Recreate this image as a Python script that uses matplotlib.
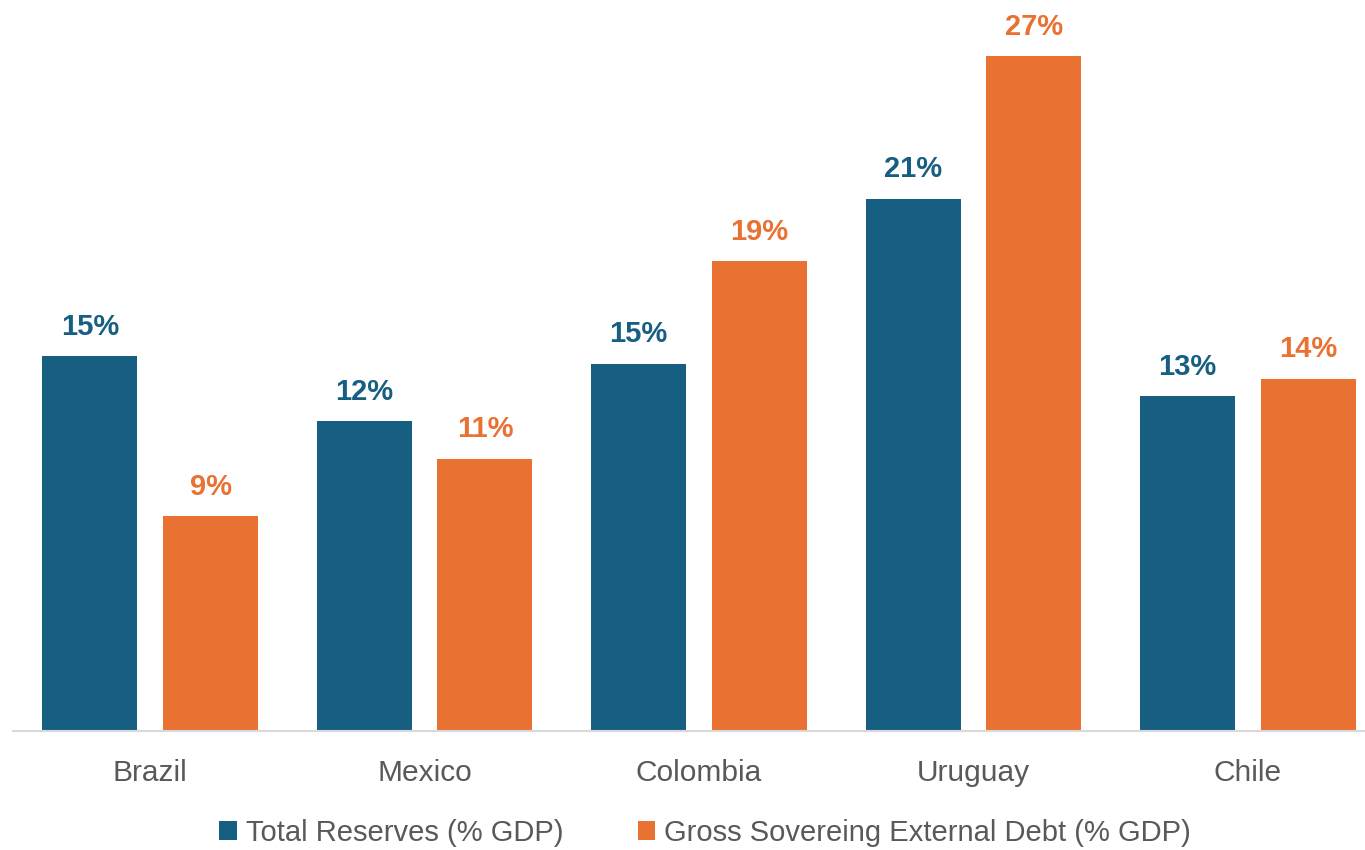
import matplotlib
matplotlib.use("Agg")
import matplotlib.pyplot as plt
from matplotlib.patches import Patch
import numpy as np

countries = ["Brazil", "Mexico", "Colombia", "Uruguay", "Chile"]
reserves = [15.0, 12.4, 14.7, 21.3, 13.4]
sovereign_debt = [8.6, 10.9, 18.8, 27.0, 14.1]
series_names = ["Total Reserves (% GDP)", "Gross Sovereing External Debt (% GDP)"]

BLUE = "#175F82"
ORANGE = "#E97132"
GRAY = "#595959"

plt.rcParams["font.family"] = ["Liberation Sans", "DejaVu Sans"]

fig = plt.figure(figsize=(13.65, 8.5), dpi=100)
W, H = 1365, 850
left_px, right_px = 13, 1385
base_px, top_px = 731, 31
ax = fig.add_axes([left_px / W, (H - base_px) / H,
                   (right_px - left_px) / W, (base_px - top_px) / H])

x = np.arange(len(countries))
width = 0.346
offset = 0.22

b1 = ax.bar(x - offset, reserves, width, color=BLUE, label=series_names[0])
b2 = ax.bar(x + offset, sovereign_debt, width, color=ORANGE, label=series_names[1])

for bars, vals, col in ((b1, reserves, BLUE), (b2, sovereign_debt, ORANGE)):
    for rect, v in zip(bars, vals):
        ax.annotate(f"{v:.0f}%", (rect.get_x() + rect.get_width() / 2, rect.get_height()),
                    xytext=(0, 11), textcoords="offset points",
                    ha="center", va="bottom", fontsize=21, fontweight="bold", color=col)

ax.set_xlim(-0.5, len(countries) - 0.5)
ax.set_ylim(0, 28)
ax.set_xticks(x)
ax.set_xticklabels(countries, fontsize=21.5, color=GRAY)
ax.tick_params(axis="x", length=0, pad=20)
ax.set_yticks([])
for s in ("top", "right", "left"):
    ax.spines[s].set_visible(False)
ax.spines["bottom"].set_color("#D9D9D9")
ax.spines["bottom"].set_linewidth(1.5)

handles = [Patch(facecolor=BLUE), Patch(facecolor=ORANGE)]
leg = fig.legend(handles, series_names, loc="center", bbox_to_anchor=(705 / W, 17 / H),
                 ncol=2, frameon=False, fontsize=21, handlelength=0.6, handleheight=0.6,
                 handletextpad=0.3, columnspacing=2.55, labelcolor=GRAY)

fig.savefig("out.png", dpi=100)
